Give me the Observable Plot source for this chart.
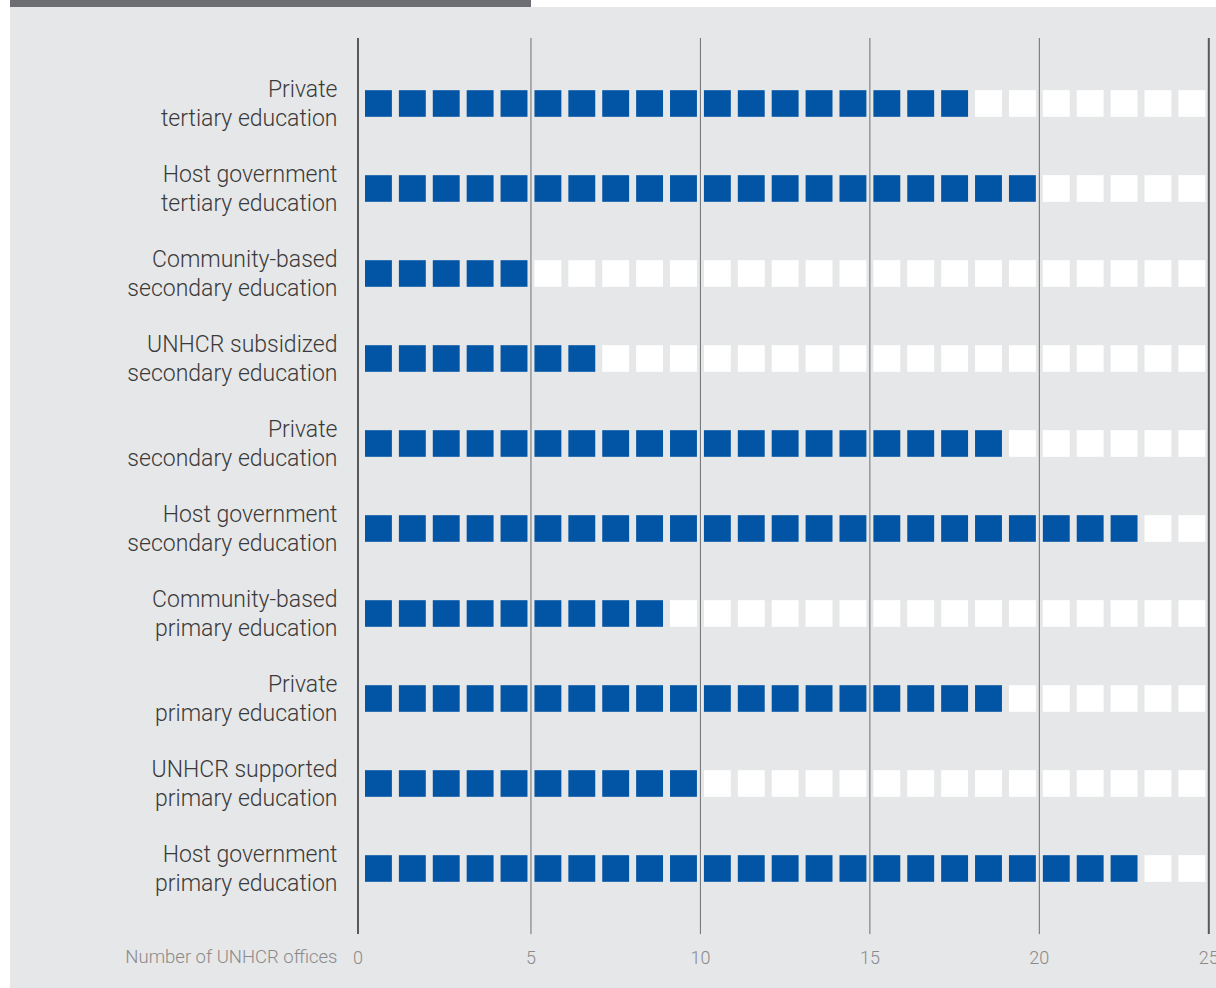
<!DOCTYPE html>
<html>
<head>
<meta charset="utf-8">
<script src="https://cdn.jsdelivr.net/npm/d3@7"></script>
<script src="https://cdn.jsdelivr.net/npm/@observablehq/plot@0.6"></script>
<style>
  html, body { margin: 0; padding: 0; background: #ffffff; width: 1216px; height: 988px; overflow: hidden; }
  #panel { position: absolute; left: 10px; top: 7px; width: 1206px; height: 981px; background: #e6e7e8; }
  #header { position: absolute; left: 10px; top: 0px; width: 521px; height: 7px; background: #6d6e71; }
  #chart { position: absolute; left: 0; top: 0; }
</style>
</head>
<body>
<div id="panel"></div>
<div id="header"></div>
<div id="chart"></div>
<script>
const categories = [
  "Private\ntertiary education",
  "Host government\ntertiary education",
  "Community-based\nsecondary education",
  "UNHCR subsidized\nsecondary education",
  "Private\nsecondary education",
  "Host government\nsecondary education",
  "Community-based\nprimary education",
  "Private\nprimary education",
  "UNHCR supported\nprimary education",
  "Host government\nprimary education"
];
const offices = [18, 20, 5, 7, 19, 23, 9, 19, 10, 23];
const maxOffices = 25;
const xTicks = [0, 5, 10, 15, 20, 25];
const axisTitle = "Number of UNHCR offices";

const cells = [];
categories.forEach((c, k) => {
  for (let i = 0; i < maxOffices; i++) {
    cells.push({category: c, i, filled: i < offices[k]});
  }
});

const tickFont = {tickSize: 0, tickPadding: 38, fontSize: 18, fontWeight: 300, fill: "#8a8a8a", label: null};

const chart = Plot.plot({
  width: 1216,
  height: 988,
  marginLeft: 361,
  marginRight: 7.7,
  marginTop: 59,
  marginBottom: 75.4,
  style: {background: "transparent", fontFamily: "Roboto, 'Liberation Sans', sans-serif"},
  x: {domain: [0, maxOffices]},
  y: {domain: categories, padding: 0},
  marks: [
    Plot.ruleX(xTicks.filter(t => t > 0 && t < maxOffices), {stroke: "#6d6e71", strokeWidth: 1, insetTop: -21, insetBottom: -21.5}),
    Plot.ruleX([maxOffices], {stroke: "#58595b", strokeWidth: 2, insetTop: -21, insetBottom: -21.5}),
    Plot.ruleX([0], {stroke: "#58595b", strokeWidth: 2, dx: -3.5, insetTop: -21, insetBottom: -21.5}),
    Plot.rect(cells, {
      x1: d => d.i,
      x2: d => d.i + 1,
      y: "category",
      fill: d => d.filled ? "#0254a5" : "#ffffff",
      insetLeft: 4,
      insetRight: 3,
      insetTop: 29.2,
      insetBottom: 29.2
    }),
    Plot.axisY({tickSize: 0, tickPadding: 24, dy: -1.5, fontSize: 23, fontWeight: 300, fill: "#3a3a3a", lineHeight: 1.27, label: null}),
    Plot.axisX({...tickFont, ticks: xTicks.filter(t => t > 0)}),
    Plot.axisX({...tickFont, ticks: [0], dx: -3.5}),
    Plot.text([axisTitle], {frameAnchor: "bottom-left", textAnchor: "end", dx: -24, dy: 50, fontSize: 18.5, fontWeight: 300, fill: "#8a8a8a"})
  ]
});
document.getElementById("chart").appendChild(chart);
</script>
</body>
</html>
